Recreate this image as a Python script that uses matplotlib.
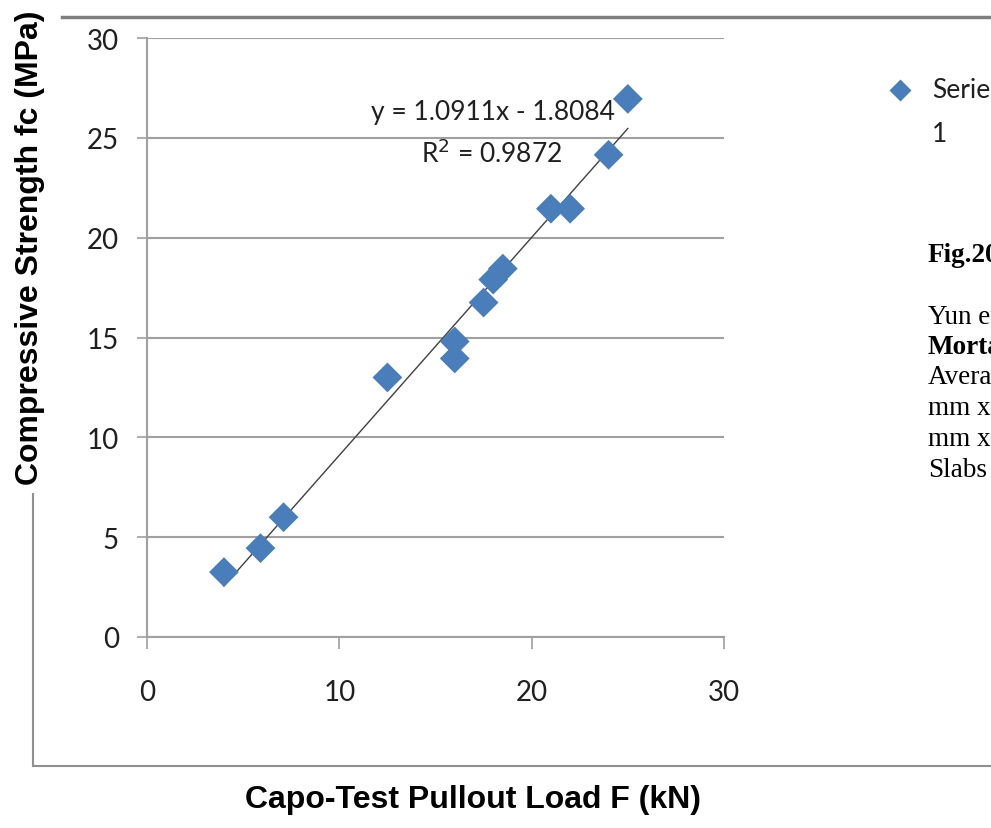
import matplotlib
matplotlib.use("Agg")
import matplotlib.pyplot as plt
from matplotlib.lines import Line2D
import numpy as np

# Data
pullout_load = [4.0, 5.9, 7.1, 12.5, 16.0, 16.0, 17.5, 18.0, 18.5, 21.0, 22.0, 24.0, 25.0]
comp_strength = [3.25, 4.45, 6.0, 13.0, 14.8, 13.95, 16.75, 17.9, 18.45, 21.45, 21.45, 24.15, 26.95]
slope = 1.0911
intercept = -1.8084
r2 = 0.9872
x_ticks = [0, 10, 20, 30]
y_ticks = [0, 5, 10, 15, 20, 25, 30]

narrow = "Lato"
sans_bold = "Liberation Sans"
serif = "Liberation Serif"

W, H = 991, 829
fig = plt.figure(figsize=(W / 100, H / 100), dpi=100)
ax = fig.add_axes([147 / W, 1 - 638 / H, (724 - 147) / W, (638 - 39) / H])

blue = "#4A7EBB"
grid_c = "#A0A0A0"

ax.scatter(pullout_load, comp_strength, marker="D", s=230, color=blue,
           edgecolors="none", zorder=3)
xs = np.array([min(pullout_load), max(pullout_load)])
ax.plot(xs, slope * xs + intercept, color="#404040", lw=1.0, zorder=2)

ax.set_xlim(0, 30)
ax.set_ylim(0, 30)
ax.set_xticks(x_ticks)
ax.set_yticks(y_ticks)
ax.yaxis.grid(True, color=grid_c, lw=1.5)
ax.set_axisbelow(True)
for s in ["top", "right"]:
    ax.spines[s].set_visible(False)
for s in ["left", "bottom"]:
    ax.spines[s].set_color(grid_c)
    ax.spines[s].set_linewidth(1.5)
ax.tick_params(axis="y", direction="out", length=7.2, width=1.2, color=grid_c,
               pad=13, labelsize=20, labelcolor="#202020")
ax.tick_params(axis="x", direction="out", length=8.5, width=1.2, color=grid_c,
               pad=22, labelsize=20, labelcolor="#202020")
for lab in ax.get_xticklabels() + ax.get_yticklabels():
    lab.set_fontfamily(narrow)

ax.text(18.0, 26.3, f"y = {slope}x - {abs(intercept)}", family=narrow, fontsize=19,
        ha="center", va="center", color="#202020")
ax.text(17.9, 24.25, f"R$^2$ = {r2}", family=narrow, fontsize=19,
        ha="center", va="center", color="#202020")

# Outer chart frame
fig.add_artist(Line2D([62 / W, 1.0], [1 - 18 / H, 1 - 18 / H], color="#808080", lw=2.5,
                      transform=fig.transFigure))
fig.add_artist(Line2D([33 / W, 33 / W], [1 - 495 / H, 1 - 767 / H], color="#909090", lw=1.5,
                      transform=fig.transFigure))
fig.add_artist(Line2D([33 / W, 1.0], [1 - 767 / H, 1 - 767 / H], color="#909090", lw=1.5,
                      transform=fig.transFigure))

# Axis labels
fig.text(30 / W, 1 - 248 / H, "Compressive Strength fc (MPa)", rotation=90,
         family=sans_bold, weight="bold", fontsize=23, ha="center", va="center")
fig.text(473 / W, 1 - 800 / H, "Capo-Test Pullout Load F (kN)",
         family=sans_bold, weight="bold", fontsize=23, ha="center", va="center")

# Legend
fig.add_artist(Line2D([900 / W], [1 - 91 / H], marker="D", markersize=11, color=blue,
                      markeredgecolor="none", linestyle="none", transform=fig.transFigure))
fig.text(932 / W, 1 - 91 / H, "Series", family=narrow, fontsize=19, ha="left",
         va="center", color="#202020")
fig.text(932 / W, 1 - 135 / H, "1", family=narrow, fontsize=19, ha="left",
         va="center", color="#202020")

# Side text (clipped at page edge, as in the reference)
fig.text(928 / W, 1 - 255 / H, "Fig.20", family=serif, weight="bold", fontsize=19.5,
         ha="left", va="center")
side_lines = [("Yun et al.", "normal"), ("Mortar", "bold"), ("Average", "normal"),
              ("mm x", "normal"), ("mm x", "normal"), ("Slabs", "normal")]
ys = [318, 347, 378, 409, 440, 471]
for (t, w), y in zip(side_lines, ys):
    fig.text(928 / W, 1 - y / H, t, family=serif, weight=w, fontsize=19.5,
             ha="left", va="center")

fig.savefig("out.png", dpi=100)
